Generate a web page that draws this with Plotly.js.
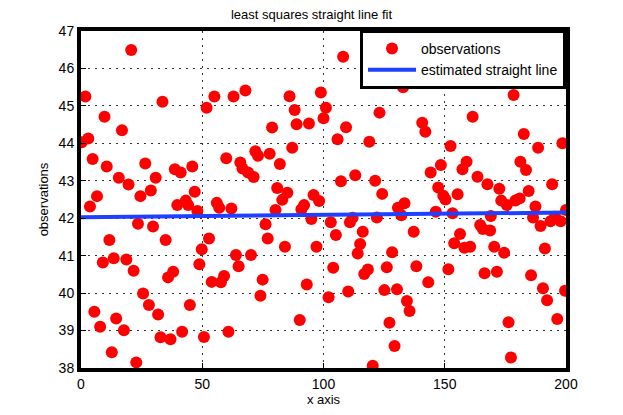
<!DOCTYPE html>
<html>
<head>
<meta charset="utf-8">
<script src="https://cdn.plot.ly/plotly-3.0.1.min.js"></script>
<style>
  body { margin: 0; background: #fff; }
  #chart { width: 623px; height: 415px; }
</style>
</head>
<body>
<div id="chart"></div>
<script>
// observations
var obsX = [
  0.3, 1.8, 3.0, 3.7, 4.8, 5.5, 6.6, 7.9, 9.0, 9.7, 10.6, 11.7, 12.7, 13.5, 14.5, 15.6, 16.9, 17.7, 18.7, 19.6,
  20.7, 21.7, 22.8, 23.5, 24.5, 25.6, 26.5, 28.0, 28.8, 29.7, 30.8, 31.8, 32.8, 33.6, 34.9, 35.9, 36.9, 38.0, 38.7, 39.7,
  41.1, 41.7, 43.2, 44.2, 44.9, 45.9, 46.9, 48.0, 48.8, 49.8, 50.7, 51.8, 52.8, 53.9, 55.0, 56.0, 57.0, 57.7, 59.0, 59.9,
  60.8, 62.0, 62.9, 63.9, 65.0, 65.7, 66.6, 67.8, 68.9, 70.1, 71.2, 71.9, 73.0, 74.0, 74.9, 76.1, 77.0, 77.8, 78.8, 80.2,
  80.9, 82.0, 83.0, 84.1, 85.1, 86.0, 87.1, 88.1, 88.9, 90.2, 90.9, 92.0, 93.1, 94.0, 95.0, 95.9, 97.1, 98.2, 98.9, 100.0,
  101.0, 102.1, 103.0, 104.0, 105.1, 105.8, 107.2, 108.1, 109.3, 110.2, 110.9, 112.0, 113.1, 114.1, 115.1, 116.2, 116.8, 118.3, 118.9, 120.3,
  121.3, 122.0, 123.1, 124.2, 125.1, 126.1, 127.2, 128.3, 129.3, 130.3, 130.7, 132.1, 132.8, 133.4, 134.4, 135.5, 137.2, 138.3, 140.7, 142.0,
  143.2, 144.2, 146.3, 147.3, 148.4, 149.4, 150.3, 151.5, 152.4, 153.2, 153.9, 155.3, 156.3, 157.3, 158.1, 159.0, 159.8, 160.5, 161.5, 163.5,
  164.6, 165.7, 166.4, 167.6, 168.7, 169.0, 170.4, 171.5, 172.5, 173.3, 174.5, 175.6, 176.3, 177.3, 178.4, 179.1, 180.9, 181.2, 182.6, 183.5,
  184.6, 185.6, 186.4, 187.4, 188.5, 189.5, 190.5, 191.3, 192.2, 193.6, 194.3, 195.4, 196.4, 197.8, 198.5, 199.6, 200.0
]
var obsY = [
  44.03, 45.25, 44.13, 42.31, 43.58, 39.50, 42.59, 39.10, 40.82, 44.71, 43.38, 41.42, 38.42, 40.93, 39.32, 43.08, 44.35, 39.01, 40.90, 42.90,
  46.49, 40.60, 38.15, 41.85, 42.59, 39.99, 43.46, 39.68, 42.74, 41.78, 43.08, 39.43, 38.82, 45.11, 41.42, 40.42, 38.77, 40.57, 43.31, 42.35,
  43.22, 38.97, 42.47, 42.35, 39.68, 43.38, 42.71, 42.19, 40.77, 41.17, 38.83, 44.95, 41.46, 40.30, 45.25, 42.41, 42.28, 40.29, 40.46, 43.60,
  38.97, 42.26, 45.25, 41.02, 40.72, 43.49, 43.33, 45.41, 43.22, 41.02, 43.10, 43.79, 43.67, 39.93, 40.36, 41.84, 41.46, 43.72, 44.42, 42.22,
  42.81, 43.45, 42.49, 41.24, 42.68, 45.26, 43.88, 44.89, 44.51, 39.28, 42.24, 42.35, 40.23, 44.53, 41.98, 42.62, 41.24, 42.46, 45.36, 44.67,
  44.95, 39.89, 41.89, 40.68, 41.55, 44.11, 42.99, 46.31, 44.43, 40.04, 41.89, 42.01, 43.15, 41.06, 41.31, 41.64, 40.51, 40.63, 44.04, 38.06,
  43.00, 42.02, 44.82, 42.65, 40.08, 40.69, 39.21, 41.09, 38.59, 40.10, 42.28, 42.08, 45.50, 42.40, 39.79, 39.52, 41.64, 40.72, 44.55, 44.31,
  40.29, 43.22, 42.17, 42.82, 43.42, 42.60, 42.50, 40.64, 43.93, 42.13, 41.33, 42.64, 41.58, 43.31, 41.21, 43.51, 45.74, 41.24, 44.71, 43.11,
  41.82, 41.71, 40.53, 42.91, 41.67, 42.06, 41.24, 40.57, 42.79, 42.47, 41.08, 42.35, 39.22, 38.28, 45.29, 42.47, 42.53, 43.51, 44.25, 43.29,
  42.73, 40.48, 42.02, 42.31, 43.88, 41.79, 40.13, 41.19, 39.81, 41.92, 42.91, 42.04, 39.31, 41.92, 44.00, 40.06, 42.22
]
var xTicks = [0, 50, 100, 150, 200]
var yTicks = [38, 39, 40, 41, 42, 43, 44, 45, 46, 47]

// least squares fit y = a + b*x
function lsFit(xs, ys) {
    var n = xs.length, sx = 0, sy = 0, sxx = 0, sxy = 0
    for (var i = 0; i < n; i++) {
        sx += xs[i]; sy += ys[i]
        sxx += xs[i] * xs[i]; sxy += xs[i] * ys[i]
    }
    var b = (n * sxy - sx * sy) / (n * sxx - sx * sx)
    var a = (sy - b * sx) / n
    return [a, b]
}
var fit = lsFit(obsX, obsY)
var lineX = [xTicks[0], xTicks[xTicks.length - 1]]
var lineY = lineX.map(function (x) { return fit[0] + fit[1] * x })

var font = "Liberation Sans, Arial, Helvetica, sans-serif"
var axisCommon = {
    showline: true,
    mirror: true,
    linecolor: "black",
    linewidth: 4,
    ticks: "inside",
    ticklen: 5,
    tickcolor: "black",
    showgrid: true,
    gridcolor: "#333",
    gridwidth: 1,
    griddash: "2px,5px",
    zeroline: false,
    tickfont: { family: font, size: 14, color: "black" },
}

Plotly.newPlot(
    document.getElementById("chart"),
    [{
        type: "scatter",
        mode: "markers",
        name: "observations",
        x: obsX,
        y: obsY,
        marker: { color: "#ff0000", size: 12, line: { width: 0 } },
    }, {
        type: "scatter",
        mode: "lines",
        name: "estimated straight line",
        x: lineX,
        y: lineY,
        line: { color: "#2040ff", width: 4 },
    }],
    {
        width: 623,
        height: 415,
        paper_bgcolor: "white",
        plot_bgcolor: "white",
        margin: { l: 81, r: 57, t: 31, b: 47 },
        showlegend: true,
        title: {
            text: "least squares straight line fit",
            font: { family: font, size: 13, color: "black" },
            x: 0.5,
            xanchor: "center",
            y: 0.975,
            yanchor: "top",
        },
        legend: {
            x: 1.0,
            y: 1.003,
            xanchor: "right",
            yanchor: "top",
            bgcolor: "white",
            bordercolor: "black",
            borderwidth: 3,
            itemwidth: 48,
            font: { family: font, size: 14, color: "black" },
            tracegroupgap: 0,
        },
        xaxis: Object.assign({}, axisCommon, {
            range: [0, 200],
            tickvals: xTicks,
            title: { text: "x axis", font: { family: font, size: 13, color: "black" }, standoff: 4 },
        }),
        yaxis: Object.assign({}, axisCommon, {
            range: [38, 47],
            tickvals: yTicks,
            title: { text: "observations", font: { family: font, size: 13, color: "black" }, standoff: 8 },
        }),
    },
    { displayModeBar: false, staticPlot: true }
)
</script>
</body>
</html>
